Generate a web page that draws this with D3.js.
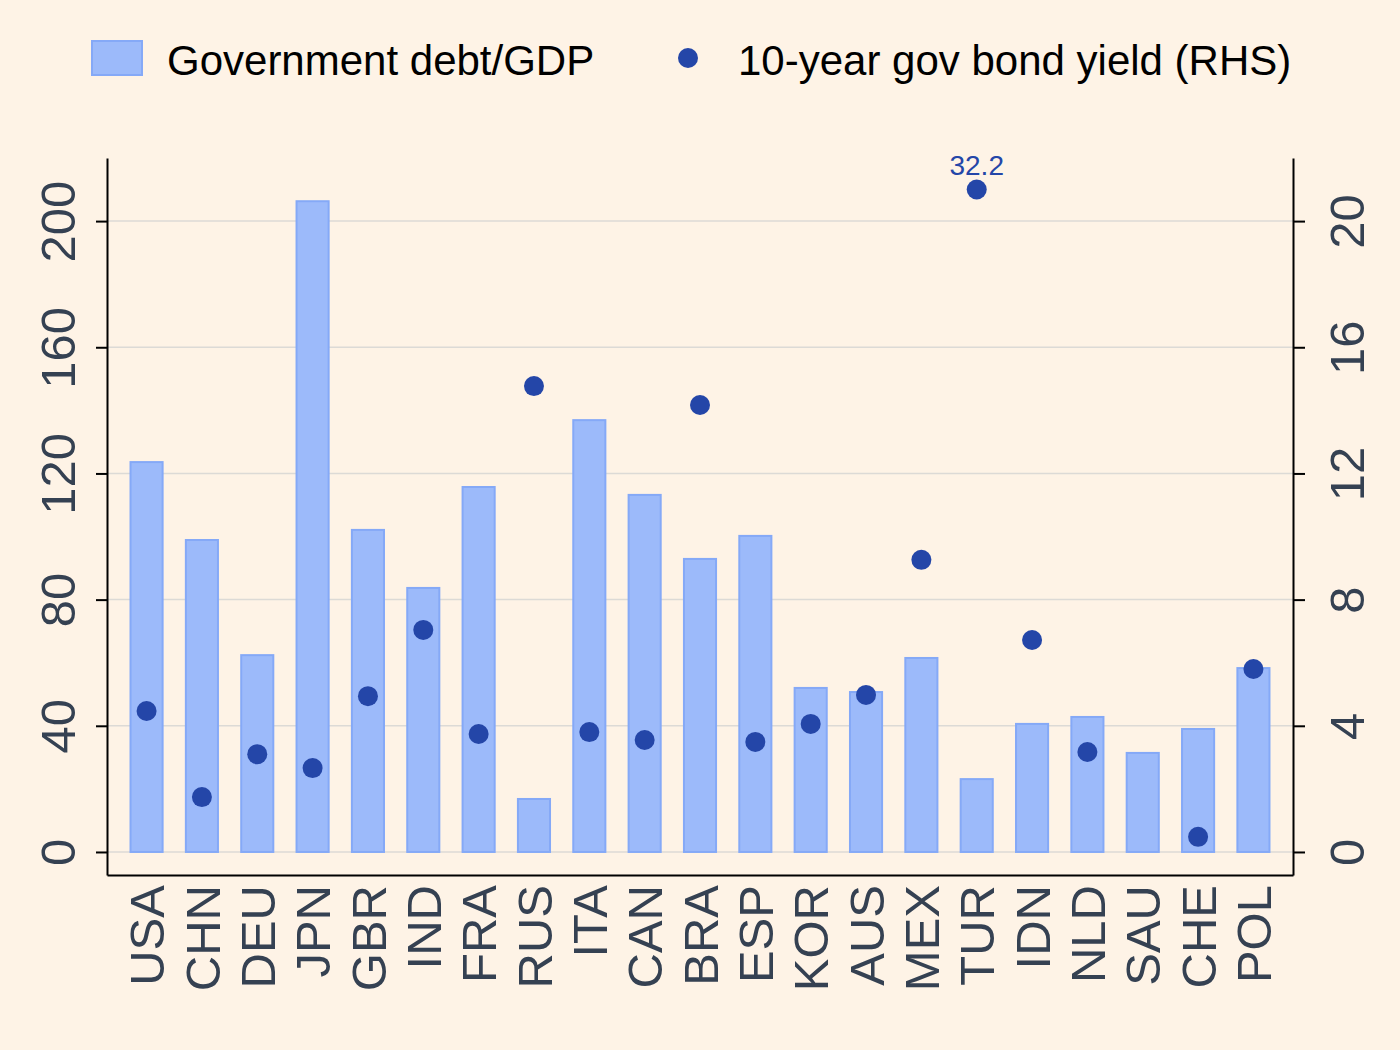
<!DOCTYPE html>
<html>
<head>
<meta charset="utf-8">
<script src="https://cdn.jsdelivr.net/npm/d3@7"></script>
<style>
body { margin: 0; background: #fef3e6; }
svg { display: block; font-family: "Liberation Sans", Arial, sans-serif; }
</style>
</head>
<body>
<div id="chart"></div>
<script>
var countries = ["USA", "CHN", "DEU", "JPN", "GBR", "IND", "FRA", "RUS", "ITA", "CAN", "BRA",
    "ESP", "KOR", "AUS", "MEX", "TUR", "IDN", "NLD", "SAU", "CHE", "POL"];
var debtGdp = [123.6, 98.9, 62.4, 206.3, 102.1, 83.7, 115.7, 16.8, 136.9, 113.2, 92.9,
    100.2, 52.0, 50.7, 61.5, 23.1, 40.6, 42.8, 31.4, 39.0, 58.3];
var bondYield = [4.47, 1.74, 3.1, 2.66, 4.94, 7.04, 3.74, 14.77, 3.8, 3.55, 14.17,
    3.49, 4.06, 4.98, 9.26, 32.2, 6.72, 3.17, null, 0.48, 5.8];
var leftTicks = [0, 40, 80, 120, 160, 200];
var rightTicks = [0, 4, 8, 12, 16, 20];
var yieldCap = 21;

var svgWidth = 1400;
var svgHeight = 1050;

var plot = { left: 107, right: 1293, top: 158, bottom: 875 };
var labelColor = "#354152";

var svg = d3.select("#chart")
    .append("svg")
    .attr("width", svgWidth)
    .attr("height", svgHeight);

svg.append("rect")
    .attr("width", svgWidth)
    .attr("height", svgHeight)
    .attr("fill", "#fef3e6");

var x = d3.scaleBand()
    .domain(countries)
    .range([plot.left, plot.right])
    .paddingInner(0.42)
    .paddingOuter(0.425);

var yLeft = d3.scaleLinear()
    .domain([-7.3, 220])
    .range([plot.bottom, plot.top]);

var yRight = d3.scaleLinear()
    .domain([-0.73, 22])
    .range([plot.bottom, plot.top]);

// gridlines
svg.append("g")
    .selectAll("line")
    .data(leftTicks)
    .enter()
    .append("line")
    .attr("x1", plot.left)
    .attr("x2", plot.right)
    .attr("y1", d => yLeft(d))
    .attr("y2", d => yLeft(d))
    .attr("stroke", "#dcdad6")
    .attr("stroke-width", 1.5);

// bars
svg.append("g")
    .selectAll("rect")
    .data(countries)
    .enter()
    .append("rect")
    .attr("x", d => x(d))
    .attr("width", x.bandwidth())
    .attr("y", (d, i) => yLeft(debtGdp[i]))
    .attr("height", (d, i) => yLeft(0) - yLeft(debtGdp[i]))
    .attr("fill", "#9cbafa")
    .attr("stroke", "#85a9f7")
    .attr("stroke-width", 2);

// dots
var dots = countries.map((c, i) => ({ c: c, v: bondYield[i] })).filter(d => d.v !== null);

svg.append("g")
    .selectAll("circle")
    .data(dots)
    .enter()
    .append("circle")
    .attr("cx", d => x(d.c) + x.bandwidth() / 2)
    .attr("cy", d => yRight(Math.min(d.v, yieldCap)))
    .attr("r", 10)
    .attr("fill", "#2446a8");

svg.append("g")
    .selectAll("text")
    .data(dots.filter(d => d.v > yieldCap))
    .enter()
    .append("text")
    .attr("x", d => x(d.c) + x.bandwidth() / 2)
    .attr("y", d => yRight(yieldCap) - 15)
    .attr("text-anchor", "middle")
    .attr("font-size", "28px")
    .attr("fill", "#2446a8")
    .text(d => d.v.toFixed(1));

// axes
var leftAxis = d3.axisLeft(yLeft).tickValues(leftTicks).tickSize(11).tickSizeOuter(0);
var rightAxis = d3.axisRight(yRight).tickValues(rightTicks).tickSize(12).tickSizeOuter(0);
var bottomAxis = d3.axisBottom(x).tickSize(0).tickSizeOuter(0);

function styleAxis(g) {
    g.select(".domain").attr("stroke", "#000").attr("stroke-width", 2);
    g.selectAll(".tick line").attr("stroke", "#000").attr("stroke-width", 2);
    g.selectAll(".tick text")
        .attr("fill", labelColor)
        .attr("font-size", "49px")
        .attr("font-family", "Liberation Sans, Arial, sans-serif");
}

var gl = svg.append("g")
    .attr("transform", `translate(${plot.left},0)`)
    .call(leftAxis)
    .call(styleAxis);
gl.selectAll(".tick text")
    .attr("transform", "rotate(-90)")
    .attr("x", 0)
    .attr("y", -49)
    .attr("dy", "0.35em")
    .attr("text-anchor", "middle");

var gr = svg.append("g")
    .attr("transform", `translate(${plot.right},0)`)
    .call(rightAxis)
    .call(styleAxis);
gr.selectAll(".tick text")
    .attr("transform", "rotate(-90)")
    .attr("x", 0)
    .attr("y", 54)
    .attr("dy", "0.35em")
    .attr("text-anchor", "middle");

var gb = svg.append("g")
    .attr("transform", `translate(0,${plot.bottom})`)
    .call(bottomAxis)
    .call(styleAxis);
gb.selectAll(".tick text")
    .attr("transform", "rotate(-90)")
    .attr("x", -10)
    .attr("y", 0)
    .attr("dy", "0.36em")
    .attr("text-anchor", "end");

// legend
var legend = svg.append("g");
legend.append("rect")
    .attr("x", 92)
    .attr("y", 41)
    .attr("width", 50)
    .attr("height", 34)
    .attr("fill", "#9cbafa")
    .attr("stroke", "#85a9f7")
    .attr("stroke-width", 2);
legend.append("text")
    .attr("x", 167)
    .attr("y", 75)
    .attr("font-size", "42px")
    .attr("fill", "#000")
    .text("Government debt/GDP");
legend.append("circle")
    .attr("cx", 688)
    .attr("cy", 58)
    .attr("r", 10)
    .attr("fill", "#2446a8");
legend.append("text")
    .attr("x", 738)
    .attr("y", 75)
    .attr("font-size", "42px")
    .attr("fill", "#000")
    .text("10-year gov bond yield (RHS)");
</script>
</body>
</html>
